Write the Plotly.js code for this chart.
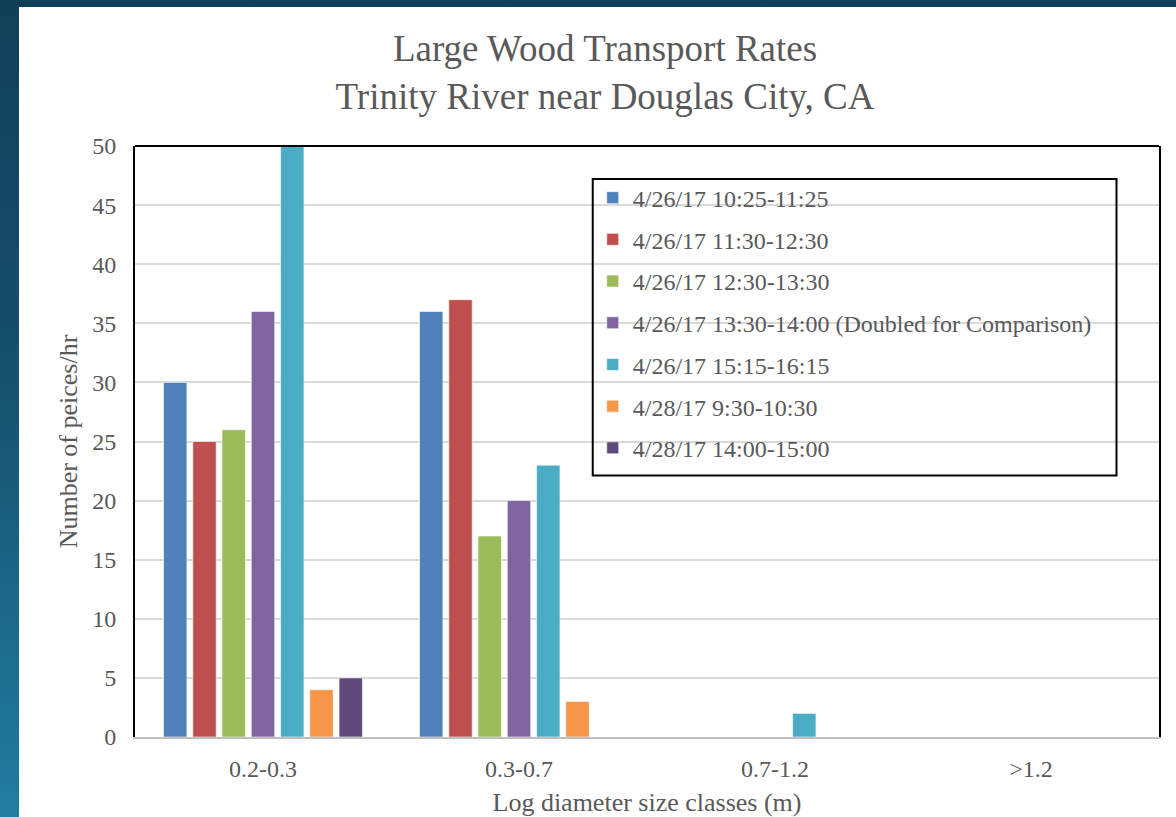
<!DOCTYPE html>
<html>
<head>
<meta charset="utf-8">
<script src="https://cdn.plot.ly/plotly-3.0.1.min.js"></script>
<style>
  html, body { margin: 0; padding: 0; }
  body {
    width: 1176px; height: 817px; overflow: hidden;
    background: linear-gradient(to bottom, #123f58 0%, #16506b 45%, #217da1 100%);
    position: relative;
  }
  #chart { position: absolute; left: 19px; top: 7px; width: 1157px; height: 810px; background: #fff; }
</style>
</head>
<body>
<div id="chart"></div>
<script>
const categories = ["0.2-0.3", "0.3-0.7", "0.7-1.2", ">1.2"];
const seriesNames = [
  "4/26/17 10:25-11:25",
  "4/26/17 11:30-12:30",
  "4/26/17 12:30-13:30",
  "4/26/17 13:30-14:00 (Doubled for Comparison)",
  "4/26/17 15:15-16:15",
  "4/28/17 9:30-10:30",
  "4/28/17 14:00-15:00"
];
const s1 = [30, 36, 0, 0];
const s2 = [25, 37, 0, 0];
const s3 = [26, 17, 0, 0];
const s4 = [36, 20, 0, 0];
const s5 = [50, 23, 2, 0];
const s6 = [4, 3, 0, 0];
const s7 = [5, 0, 0, 0];
const seriesValues = [s1, s2, s3, s4, s5, s6, s7];
const colors = ["#4f81bd", "#c0504d", "#9bbb59", "#8064a2", "#4bacc6", "#f79646", "#604a7b"];

const FONT = "Liberation Serif, Times New Roman, serif";
const GREY = "#595959";

const traces = seriesValues.map((vals, i) => ({
  type: "bar",
  name: seriesNames[i],
  x: categories,
  y: vals,
  legendgroup: "g" + i,
  marker: { color: colors[i], line: { color: "rgba(255,255,255,0.6)", width: 1 } },
  hoverinfo: "x+y+name"
}));

const layout = {
  width: 1157, height: 810,
  paper_bgcolor: "#ffffff",
  plot_bgcolor: "#ffffff",
  margin: { l: 116, r: 17, t: 139, b: 80 },
  font: { family: FONT, color: GREY, size: 24 },
  title: {
    text: "Large Wood Transport Rates<br>Trinity River near Douglas City, CA",
    font: { family: FONT, size: 37, color: GREY },
    x: 0.459, xref: "paper", xanchor: "center",
    y: 0.933, yref: "container", yanchor: "middle"
  },
  barmode: "group",
  bargap: 0.2,
  bargroupgap: 0.2,
  showlegend: true,
  legend: {
    x: 0.447, xanchor: "left",
    y: 0.95, yanchor: "top",
    bgcolor: "rgba(0,0,0,0)",
    borderwidth: 0,
    font: { family: FONT, size: 24, color: GREY },
    tracegroupgap: 7.5,
    traceorder: "grouped"
  },
  xaxis: {
    type: "category",
    showline: true, linecolor: "#bfbfbf", linewidth: 2,
    showgrid: false, zeroline: false,
    ticks: "",
    ticklabelstandoff: 9,
    tickfont: { family: FONT, size: 24, color: GREY },
    title: { text: "Log diameter size classes (m)", font: { family: FONT, size: 26, color: GREY }, standoff: 13 }
  },
  yaxis: {
    range: [0, 50],
    tick0: 0, dtick: 5,
    showline: true, linecolor: "#000000", linewidth: 2, mirror: true,
    showgrid: true, gridcolor: "#d9d9d9", gridwidth: 2,
    zeroline: false,
    ticks: "",
    ticklabelstandoff: 12,
    tickfont: { family: FONT, size: 24, color: GREY },
    title: { text: "Number of peices/hr", font: { family: FONT, size: 26, color: GREY }, standoff: 7 }
  },
  shapes: [
    { type: "line", xref: "paper", yref: "paper", x0: 0, x1: 1, y0: 1, y1: 1, line: { color: "#000", width: 2 } },
    { type: "rect", xref: "paper", yref: "paper", x0: 0.447, x1: 0.9585, y0: 0.4425, y1: 0.9442,
      line: { color: "#000", width: 2 }, fillcolor: "rgba(0,0,0,0)" }
  ]
};

Plotly.newPlot("chart", traces, layout, { displayModeBar: false, staticPlot: true });
</script>
</body>
</html>
